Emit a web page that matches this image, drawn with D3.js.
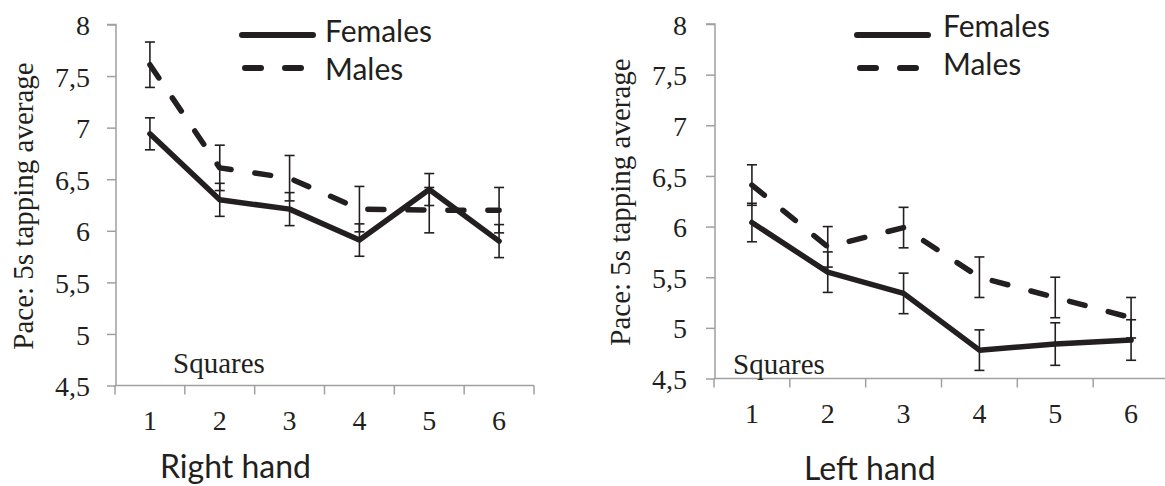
<!DOCTYPE html>
<html>
<head>
<meta charset="utf-8">
<script src="https://cdn.jsdelivr.net/npm/d3@7"></script>
<style>
  html, body { margin: 0; padding: 0; background: #fff; }
  svg { display: block; }
</style>
</head>
<body>
<svg id="chart" width="1165" height="486"></svg>
<script>
// ---- Data ----
const categories = ["1", "2", "3", "4", "5", "6"];
const yTickValues = [4.5, 5, 5.5, 6, 6.5, 7, 7.5, 8];
const yTickLabels = ["4,5", "5", "5,5", "6", "6,5", "7", "7,5", "8"];
const seriesNames = ["Females", "Males"];

const rightFemales    = [6.94, 6.30, 6.21, 5.91, 6.40, 5.90];
const rightFemalesErr = [0.155, 0.16, 0.16, 0.157, 0.155, 0.16];
const rightMales      = [7.61, 6.61, 6.51, 6.21, 6.20, 6.20];
const rightMalesErr   = [0.22, 0.22, 0.22, 0.22, 0.22, 0.22];

const leftFemales     = [6.04, 5.55, 5.34, 4.78, 4.84, 4.88];
const leftFemalesErr  = [0.19, 0.20, 0.20, 0.20, 0.21, 0.20];
const leftMales       = [6.41, 5.80, 5.99, 5.50, 5.30, 5.10];
const leftMalesErr    = [0.20, 0.20, 0.20, 0.20, 0.20, 0.20];

const yTitle = "Pace: 5s tapping average";
const innerLabel = "Squares";

// ---- Styles ----
const INK = "#231f20";
const AXIS = "#a0a0a0";
const SERIF = "'Liberation Serif', 'Times New Roman', serif";
const SANS = "Lato, 'Open Sans', sans-serif";
const LINE_W = 5.5;
const DASH = "16 24";

const svg = d3.select("#chart");
svg.append("rect").attr("width", 1165).attr("height", 486).attr("fill", "#fff");

const panels = [
  {
    title: "Right hand", females: rightFemales, femalesErr: rightFemalesErr,
    males: rightMales, malesErr: rightMalesErr,
    x0: 115, x1: 534, yTop: 24.5, yBot: 385.5,
    tickLabelX: 90, yTitleX: 33, yTitleY: 206,
    xLabelY: 430, titleX: 160, titleY: 478,
    innerX: 173, innerY: 373,
    legX0: 242, legX1: 313, legY1: 35, legY2: 68, legTextX: 325, legT1: 42, legT2: 80
  },
  {
    title: "Left hand", females: leftFemales, femalesErr: leftFemalesErr,
    males: leftMales, malesErr: leftMalesErr,
    x0: 714, x1: 1169, yTop: 24, yBot: 378.5,
    tickLabelX: 687, yTitleX: 630, yTitleY: 202,
    xLabelY: 423, titleX: 804, titleY: 480,
    innerX: 733, innerY: 374,
    legX0: 857, legX1: 928, legY1: 35, legY2: 68, legTextX: 943, legT1: 37, legT2: 75
  }
];

panels.forEach(p => {
  const g = svg.append("g");
  const x = d3.scaleBand().domain(categories).range([p.x0, p.x1]).padding(0);
  const y = d3.scaleLinear().domain([4.5, 8]).range([p.yBot, p.yTop]);
  const cx = c => x(c) + x.bandwidth() / 2;

  // Y axis
  const yAxis = d3.axisLeft(y).tickValues(yTickValues)
    .tickFormat((d, i) => yTickLabels[i]).tickSize(9).tickPadding(0);
  const ya = g.append("g").attr("transform", `translate(${p.x0 + 1},0)`).call(yAxis);
  ya.select(".domain").attr("stroke", AXIS).attr("stroke-width", 1.5)
    .attr("d", `M-9,${y(8)}H0V${y(4.5)}`);
  ya.selectAll(".tick line").attr("stroke", AXIS).attr("stroke-width", 1.5);
  ya.selectAll(".tick text")
    .attr("x", p.tickLabelX - (p.x0 + 1))
    .attr("dy", "0.36em")
    .attr("fill", INK)
    .style("font-family", SERIF).style("font-size", "28px");

  // X axis
  const xAxis = d3.axisBottom(x).tickSize(0).tickPadding(0);
  const xa = g.append("g").attr("transform", `translate(0,${p.yBot})`).call(xAxis);
  xa.select(".domain").attr("stroke", AXIS).attr("stroke-width", 1.5)
    .attr("d", `M${p.x0},0H${p.x1}`);
  xa.selectAll(".tick text").attr("y", p.xLabelY - p.yBot).attr("dy", 0)
    .attr("fill", INK).style("font-family", SERIF).style("font-size", "28px");
  // boundary tick marks between categories
  const bounds = categories.map(c => x(c)).concat([p.x1]);
  xa.selectAll(".bound").data(bounds).enter().append("line")
    .attr("x1", d => d).attr("x2", d => d).attr("y1", 0).attr("y2", 9)
    .attr("stroke", AXIS).attr("stroke-width", 1.5);

  // Error bars
  const drawErr = (vals, errs) => {
    const eg = g.append("g").attr("stroke", INK).attr("stroke-width", 1.6).attr("fill", "none");
    categories.forEach((c, i) => {
      const xc = cx(c), hi = y(vals[i] + errs[i]), lo = y(vals[i] - errs[i]);
      eg.append("line").attr("x1", xc).attr("x2", xc).attr("y1", hi).attr("y2", lo);
      eg.append("line").attr("x1", xc - 5).attr("x2", xc + 5).attr("y1", hi).attr("y2", hi);
      eg.append("line").attr("x1", xc - 5).attr("x2", xc + 5).attr("y1", lo).attr("y2", lo);
    });
  };
  drawErr(p.males, p.malesErr);
  drawErr(p.females, p.femalesErr);

  // Lines
  const line = d3.line().x((d, i) => cx(categories[i])).y(d => y(d));
  g.append("path").datum(p.males).attr("d", line)
    .attr("fill", "none").attr("stroke", INK).attr("stroke-width", LINE_W)
    .attr("stroke-dasharray", DASH).attr("stroke-linecap", "round").attr("stroke-linejoin", "round");
  g.append("path").datum(p.females).attr("d", line)
    .attr("fill", "none").attr("stroke", INK).attr("stroke-width", LINE_W)
    .attr("stroke-linecap", "round").attr("stroke-linejoin", "round");

  // Y title
  g.append("text")
    .attr("transform", `translate(${p.yTitleX},${p.yTitleY}) rotate(-90)`)
    .attr("text-anchor", "middle").attr("fill", INK)
    .style("font-family", SERIF).style("font-size", "29px")
    .text(yTitle);

  // Inner label
  g.append("text").attr("x", p.innerX).attr("y", p.innerY).attr("fill", INK)
    .style("font-family", SERIF).style("font-size", "29px").text(innerLabel);

  // Panel title
  g.append("text").attr("x", p.titleX).attr("y", p.titleY).attr("fill", INK)
    .style("font-family", SANS).style("font-size", "32px").text(p.title);

  // Legend
  const lg = g.append("g");
  lg.append("line").attr("x1", p.legX0).attr("x2", p.legX1).attr("y1", p.legY1).attr("y2", p.legY1)
    .attr("stroke", INK).attr("stroke-width", 6).attr("stroke-linecap", "round");
  lg.append("line").attr("x1", p.legX0).attr("x2", p.legX1).attr("y1", p.legY2).attr("y2", p.legY2)
    .attr("stroke", INK).attr("stroke-width", 6).attr("stroke-linecap", "round")
    .attr("stroke-dasharray", DASH).attr("stroke-dashoffset", -3);
  lg.append("text").attr("x", p.legTextX).attr("y", p.legT1).attr("fill", INK)
    .style("font-family", SANS).style("font-size", "30px").text(seriesNames[0]);
  lg.append("text").attr("x", p.legTextX).attr("y", p.legT2).attr("fill", INK)
    .style("font-family", SANS).style("font-size", "30px").text(seriesNames[1]);
});
</script>
</body>
</html>
